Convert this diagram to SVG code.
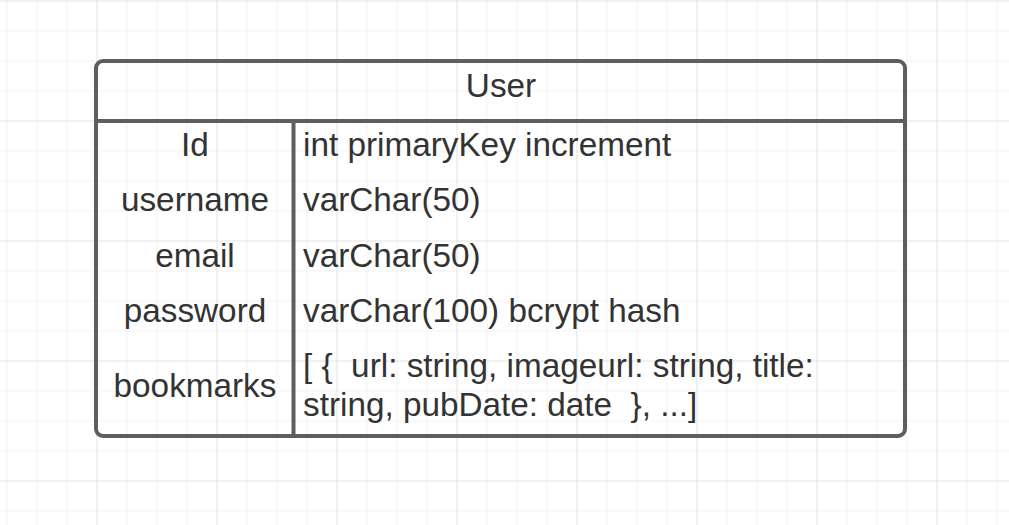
<svg xmlns="http://www.w3.org/2000/svg" width="1009" height="525" viewBox="0 0 1009 525">
  <defs>
    <pattern id="minor" x="6.5" y="0.5" width="30" height="30" patternUnits="userSpaceOnUse">
      <path d="M0 0 H30 M0 0 V30" fill="none" stroke="#e8e8e8" stroke-width="1"/>
    </pattern>
    <pattern id="major" x="96.5" y="0.5" width="120" height="120" patternUnits="userSpaceOnUse">
      <path d="M0 0 H120 M0 0 V120" fill="none" stroke="#d9d9d9" stroke-width="1"/>
    </pattern>
  </defs>
  <style>
    .t { font-family: "Liberation Sans", Arial, sans-serif; font-size: 33.3px; fill: #333333; }
    .c { text-anchor: middle; }
    .ln { fill: none; stroke: #5e5e5e; stroke-width: 4; }
  </style>
  <rect width="1009" height="525" fill="#ffffff"/>
  <rect width="1009" height="525" fill="url(#minor)"/>
  <rect width="1009" height="525" fill="url(#major)"/>
  <g id="user">
    <rect x="96" y="61" width="809" height="375" rx="7" ry="7" fill="#ffffff" class="ln"/>
    <path d="M96 121 H905 M293.5 121 V436" class="ln"/>
    <text class="t c" x="501" y="97">User</text>
    <text class="t c" x="195" y="156">Id</text>
    <text class="t" x="303" y="156">int primaryKey increment</text>
    <text class="t c" x="195" y="211">username</text>
    <text class="t" x="303" y="211">varChar(50)</text>
    <text class="t c" x="195" y="267">email</text>
    <text class="t" x="303" y="267">varChar(50)</text>
    <text class="t c" x="195" y="322">password</text>
    <text class="t" x="303" y="322">varChar(100) bcrypt hash</text>
    <text class="t c" x="195" y="397">bookmarks</text>
    <text class="t" x="303" y="377" xml:space="preserve">[ {  url: string, imageurl: string, title:</text>
    <text class="t" x="303" y="416" xml:space="preserve">string, pubDate: date  }, ...]</text>
  </g>
  <g id="connectors"></g>
</svg>
